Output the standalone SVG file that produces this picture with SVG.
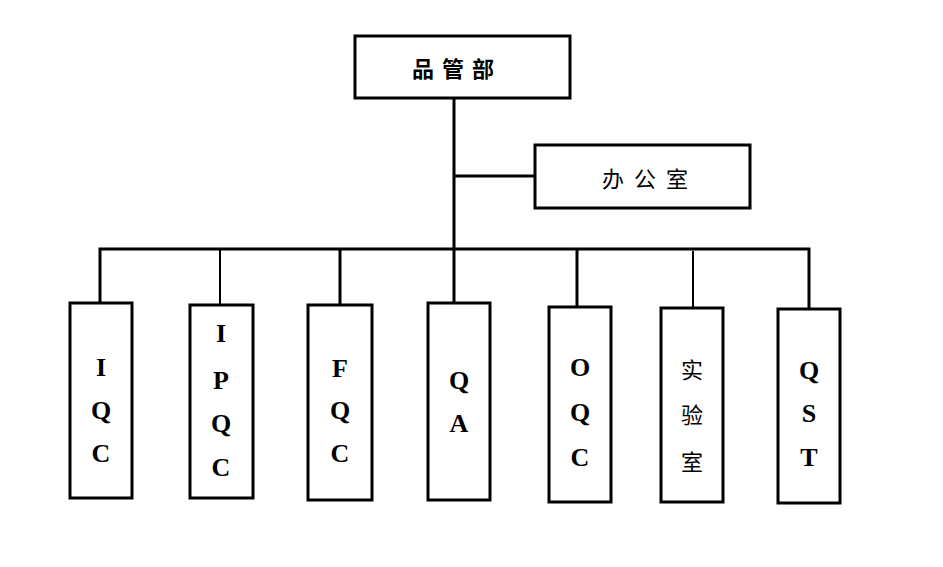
<svg xmlns="http://www.w3.org/2000/svg" width="943" height="567" viewBox="0 0 943 567">
<style>
.box{fill:#fff;stroke:#000;stroke-width:3}
.ln{fill:none;stroke:#000;stroke-width:3}
.lt{font-family:"Liberation Serif","Times New Roman",serif;font-weight:bold;font-size:26px;text-anchor:middle;dominant-baseline:central;fill:#000}
.cj{font-family:"Noto Sans CJK SC","Noto Sans CJK JP",sans-serif;font-size:22px;text-anchor:middle;dominant-baseline:central;fill:#000}
</style>
<rect width="943" height="567" fill="#fff"/>
<g id="connectors">
<path class="ln" d="M454 98 V303"/>
<path class="ln" d="M454 176 H535"/>
<path class="ln" d="M100 303 V249 H809 V309"/>
<path class="ln" d="M220 249 V305" style="stroke-width:2"/>
<path class="ln" d="M340 249 V305"/>
<path class="ln" d="M577 250 V307"/>
<path class="ln" d="M693 251 V308" style="stroke-width:2"/>
</g>
<g id="pinguanbu"><rect class="box" x="355" y="36" width="215" height="62"/><text class="cj" x="457" y="67" font-weight="bold" letter-spacing="8">品管部</text></g>
<g id="bangongshi"><rect class="box" x="535" y="145" width="215" height="63"/><text class="cj" x="650" y="177" letter-spacing="10">办公室</text></g>
<g id="iqc"><rect class="box" x="70" y="303" width="62" height="195"/><text class="lt" x="101" y="367">I</text><text class="lt" x="101" y="410">Q</text><text class="lt" x="101" y="453">C</text></g>
<g id="ipqc"><rect class="box" x="190" y="305" width="63" height="193"/><text class="lt" x="221" y="333">I</text><text class="lt" x="221" y="380">P</text><text class="lt" x="221" y="423">Q</text><text class="lt" x="221" y="467">C</text></g>
<g id="fqc"><rect class="box" x="308" y="305" width="64" height="195"/><text class="lt" x="340" y="368">F</text><text class="lt" x="340" y="410">Q</text><text class="lt" x="340" y="453">C</text></g>
<g id="qa"><rect class="box" x="428" y="303" width="62" height="197"/><text class="lt" x="459" y="380">Q</text><text class="lt" x="459" y="423">A</text></g>
<g id="oqc"><rect class="box" x="549" y="307" width="62" height="195"/><text class="lt" x="580" y="367">O</text><text class="lt" x="580" y="412">Q</text><text class="lt" x="580" y="457">C</text></g>
<g id="shiyanshi"><rect class="box" x="661" y="308" width="62" height="194"/><text class="cj" x="692" y="368">实</text><text class="cj" x="692" y="413">验</text><text class="cj" x="692" y="460">室</text></g>
<g id="qst"><rect class="box" x="778" y="309" width="62" height="194"/><text class="lt" x="809" y="370">Q</text><text class="lt" x="809" y="413">S</text><text class="lt" x="809" y="457">T</text></g>
</svg>
